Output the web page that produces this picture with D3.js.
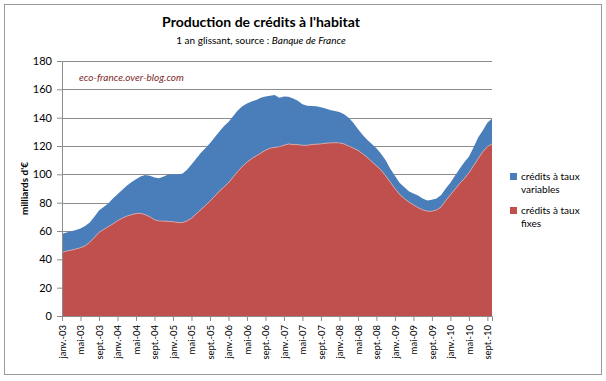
<!DOCTYPE html>
<html lang="fr">
<head>
<meta charset="UTF-8">
<title>Production de crédits à l'habitat</title>
<script src="https://d3js.org/d3.v7.min.js"></script>
<style>
  body { margin: 0; background: #fff; }
  text { font-family: Lato, "Open Sans", sans-serif; }
</style>
</head>
<body>
<div id="chart"></div>
<script>
// month names and years used for the category labels
var monthNames = ["janv.", "févr.", "mars", "avr.", "mai", "juin", "juil.", "août", "sept.", "oct.", "nov.", "déc."];
var years = ["03", "04", "05", "06", "07", "08", "09", "10"];
var nMonths = 94; // janv.-03 .. oct.-10

// crédits à taux fixes (milliards d'€), monthly, 1 an glissant
var fixes = [
  45, 45.8, 46.5, 47.3, 48.2, 49.5, 52, 55.5, 59, 61, 63, 65,
  67.3, 69, 70.5, 71.5, 72.3, 72.5, 71.5, 70, 68, 67, 67, 66.8,
  66.5, 66, 66, 67, 69, 72, 75, 78, 81, 84.5, 88, 91,
  94, 98, 102, 105.5, 108.5, 111, 113, 115, 117, 118.5, 119, 119.5,
  120.5, 121.5, 121, 121, 120.5, 120.5, 121, 121.3, 121.5, 122, 122.2, 122.3,
  122.2, 121.5, 120, 118.5, 117, 114.5, 112, 109, 106, 103, 99, 94.5,
  90, 86, 83, 80.5, 78.5, 76.5, 75, 74, 74, 74.8, 77, 81.5,
  85.5, 89.5, 93.5, 97, 101, 106, 111, 116, 119.5, 121.5
];
// crédits à taux variables (milliards d'€)
var variables = [
  13, 13.2, 13.3, 13.4, 13.6, 14, 14, 14.5, 15.5, 16, 16.5, 18,
  18.7, 20, 21.5, 23, 24.2, 26, 28, 29, 29.8, 30.2, 31.5, 33,
  33.5, 34, 34.5, 36, 38, 39, 40, 40.5, 41, 41.5, 42, 43,
  43, 43, 43, 42.5, 41.5, 40.5, 39.5, 39, 38, 37, 37, 34.5,
  34.5, 33.3, 32.5, 31, 29, 28, 27.3, 26.7, 25.8, 24.5, 23.3, 22.4,
  21.8, 21, 20, 18, 15, 13.5, 12.5, 12.5, 12.5, 11.5, 11, 9.5,
  9, 8, 8, 7.5, 8, 8.5, 8, 7.5, 8, 8.2, 8.5, 8.5,
  8.5, 9.5, 10.5, 11.5, 11.5, 13, 15, 15, 17, 18
];
var yTicks = [0, 20, 40, 60, 80, 100, 120, 140, 160, 180];

var categories = [];
for (var i = 0; i < nMonths; i++) {
  categories.push(monthNames[i % 12] + "-" + years[Math.floor(i / 12)]);
}
var data = categories.map(function(c, i) {
  return { month: c, fixes: fixes[i], variables: variables[i] };
});

var W = 606, H = 381;
var margin = {left: 62, right: 114, top: 61, bottom: 65};

var svg = d3.select("#chart").append("svg")
  .attr("width", W).attr("height", H);

// outer frame of the chart object
svg.append("rect")
  .attr("x", 4.5).attr("y", 4.5)
  .attr("width", 597).attr("height", 370)
  .attr("fill", "#fff").attr("stroke", "#9a9a9a");

var x = d3.scalePoint()
  .domain(categories)
  .range([margin.left, W - margin.right]);

var y = d3.scaleLinear()
  .domain([0, 180])
  .range([H - margin.bottom, margin.top]);

// gridlines
svg.append("g")
  .selectAll("line")
  .data(yTicks.slice(1))
  .enter().append("line")
    .attr("x1", margin.left).attr("x2", W - margin.right)
    .attr("y1", function(d) { return Math.round(y(d)) + 0.5; })
    .attr("y2", function(d) { return Math.round(y(d)) + 0.5; })
    .attr("stroke", "#8c8c8c").attr("stroke-width", 1);

// stacked areas
var stack = d3.stack().keys(["fixes", "variables"]);
var layers = stack(data);
var colors = {fixes: "#c0504d", variables: "#4a7ebb"};

var area = d3.area()
  .x(function(d) { return x(d.data.month); })
  .y0(function(d) { return y(d[0]); })
  .y1(function(d) { return y(d[1]); });

svg.append("g")
  .selectAll("path")
  .data(layers)
  .enter().append("path")
    .attr("d", area)
    .attr("fill", function(d) { return colors[d.key]; });

// light edge on top of the red series
svg.append("path")
  .datum(layers[0])
  .attr("fill", "none")
  .attr("stroke", "#e3a9a7")
  .attr("stroke-width", 0.8)
  .attr("d", d3.line()
    .x(function(d) { return x(d.data.month); })
    .y(function(d) { return y(d[1]); }));

// y axis
var yAxis = svg.append("g")
  .attr("transform", "translate(" + margin.left + ",0)")
  .call(d3.axisLeft(y).tickValues(yTicks).tickSize(5).tickPadding(5));
yAxis.select(".domain").attr("stroke", "#8c8c8c");
yAxis.selectAll(".tick line").attr("stroke", "#8c8c8c");
yAxis.selectAll("text")
  .style("font-family", "Lato, sans-serif")
  .style("font-size", "11px")
  .attr("fill", "#000");

// x axis
var xAxis = svg.append("g")
  .attr("transform", "translate(0," + (H - margin.bottom) + ")")
  .call(d3.axisBottom(x)
    .tickValues(categories.filter(function(d, i) { return i % 4 === 0; }))
    .tickSize(5).tickPadding(4));
xAxis.select(".domain").attr("stroke", "#8c8c8c");
xAxis.selectAll(".tick line").attr("stroke", "#8c8c8c");
xAxis.selectAll("text")
  .style("font-family", "Lato, sans-serif")
  .style("font-size", "9.5px")
  .attr("fill", "#000")
  .attr("transform", "rotate(-90)")
  .attr("text-anchor", "end")
  .attr("x", -9)
  .attr("y", 0)
  .attr("dy", "0.35em");

// titles
svg.append("text")
  .attr("x", 261).attr("y", 27)
  .attr("text-anchor", "middle")
  .style("font-size", "14px").style("font-weight", "bold")
  .text("Production de crédits à l'habitat");

var sub = svg.append("text")
  .attr("x", 261).attr("y", 44)
  .attr("text-anchor", "middle")
  .style("font-size", "10px");
sub.append("tspan").text("1 an glissant, source : ");
sub.append("tspan").style("font-style", "italic").text("Banque de France");

// y axis title
svg.append("text")
  .attr("transform", "translate(28," + y(90) + ") rotate(-90)")
  .attr("text-anchor", "middle")
  .style("font-size", "10px").style("font-weight", "bold")
  .text("milliards d'€");

// watermark
svg.append("text")
  .attr("x", 79).attr("y", 81)
  .style("font-size", "10px").style("font-style", "italic")
  .attr("fill", "#7f2a2a")
  .text("eco-france.over-blog.com");

// legend
var legendItems = [
  {key: "variables", lines: ["crédits à taux", "variables"], y: 177},
  {key: "fixes", lines: ["crédits à taux", "fixes"], y: 211}
];
var legend = svg.append("g");
legendItems.forEach(function(it) {
  legend.append("rect")
    .attr("x", 510).attr("y", it.y - 4)
    .attr("width", 7).attr("height", 7)
    .attr("fill", colors[it.key]);
  var t = legend.append("text")
    .attr("x", 521).attr("y", it.y + 3)
    .style("font-size", "10px");
  it.lines.forEach(function(l, k) {
    t.append("tspan").attr("x", 521).attr("dy", k === 0 ? 0 : 13).text(l);
  });
});
</script>
</body>
</html>
